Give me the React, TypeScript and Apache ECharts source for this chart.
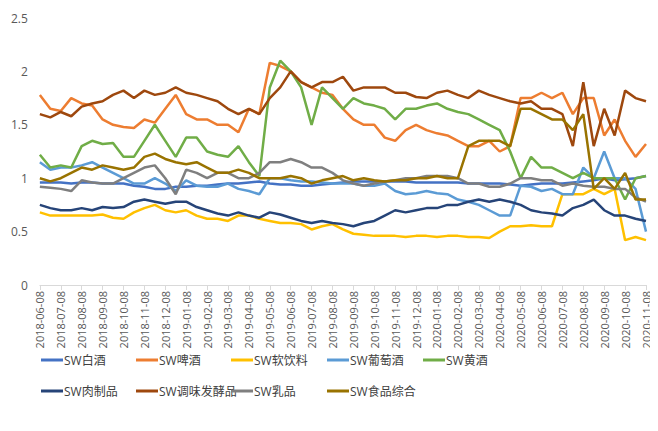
import React, { useEffect, useRef } from 'react';
import * as echarts from 'echarts';

// semi-monthly observations: the 8th and 23rd of each month
const dates: string[] = [];
for (let y = 2018, m = 6; y < 2020 || m <= 11; ) {
  const mm = String(m).padStart(2, '0');
  dates.push(`${y}-${mm}-08`);
  if (!(y === 2020 && m === 11)) dates.push(`${y}-${mm}-23`);
  m++;
  if (m > 12) { m = 1; y++; }
  if (y === 2020 && m > 11) break;
}

const seriesNames = ['SW白酒', 'SW啤酒', 'SW软饮料', 'SW葡萄酒', 'SW黄酒', 'SW肉制品', 'SW调味发酵品', 'SW乳品', 'SW食品综合'];
const colors = ['#4472C4', '#ED7D31', '#FFC000', '#5B9BD5', '#70AD47', '#264478', '#9E480E', '#7F7F7F', '#997300'];

const baijiu = [0.96,0.96,0.96,0.95,0.96,0.96,0.95,0.95,0.95,0.93,0.92,0.9,0.9,0.92,0.92,0.93,0.93,0.94,0.95,0.95,0.96,0.97,0.95,0.94,0.94,0.93,0.93,0.94,0.95,0.96,0.97,0.97,0.97,0.97,0.97,0.97,0.96,0.96,0.96,0.96,0.96,0.95,0.95,0.95,0.95,0.94,0.93,0.94,0.95,0.95,0.95,0.96,0.97,0.98,1.0,0.98,0.99,1.0,1.02];
const beer = [1.78,1.65,1.63,1.75,1.7,1.68,1.55,1.5,1.48,1.47,1.55,1.52,1.65,1.78,1.6,1.55,1.55,1.5,1.5,1.43,1.65,1.6,2.08,2.05,2.0,1.9,1.85,1.8,1.78,1.65,1.55,1.5,1.5,1.38,1.35,1.45,1.5,1.45,1.42,1.4,1.35,1.3,1.3,1.35,1.25,1.3,1.75,1.75,1.8,1.75,1.8,1.6,1.75,1.75,1.4,1.55,1.35,1.2,1.32];
const softDrink = [0.68,0.65,0.65,0.65,0.65,0.65,0.66,0.63,0.62,0.68,0.72,0.75,0.7,0.68,0.7,0.65,0.62,0.62,0.6,0.65,0.65,0.62,0.6,0.58,0.58,0.57,0.52,0.55,0.57,0.52,0.48,0.47,0.46,0.46,0.46,0.45,0.46,0.46,0.45,0.46,0.46,0.45,0.45,0.44,0.5,0.55,0.55,0.56,0.55,0.55,0.85,0.85,0.85,0.9,0.85,0.9,0.42,0.45,0.42];
const wine = [1.15,1.08,1.1,1.1,1.12,1.15,1.1,1.05,1.0,0.95,0.95,1.0,0.95,0.88,0.98,0.93,0.92,0.92,0.95,0.9,0.88,0.85,1.0,1.0,0.98,0.97,0.97,0.96,0.95,0.95,0.95,0.93,0.93,0.95,0.88,0.85,0.86,0.88,0.86,0.85,0.8,0.78,0.75,0.7,0.65,0.65,0.93,0.92,0.88,0.9,0.85,0.85,1.1,1.0,1.25,1.0,1.0,0.9,0.5];
const huangjiu = [1.22,1.1,1.12,1.1,1.3,1.35,1.32,1.33,1.2,1.2,1.35,1.5,1.35,1.2,1.38,1.38,1.25,1.22,1.2,1.3,1.15,1.02,1.85,2.1,2.0,1.85,1.5,1.85,1.75,1.65,1.75,1.7,1.68,1.65,1.55,1.65,1.65,1.68,1.7,1.65,1.62,1.6,1.55,1.5,1.45,1.25,1.0,1.2,1.1,1.1,1.05,1.0,1.05,1.0,1.0,1.0,0.8,1.0,1.02];
const meat = [0.75,0.72,0.7,0.7,0.72,0.7,0.73,0.72,0.73,0.78,0.8,0.78,0.76,0.78,0.78,0.73,0.7,0.67,0.65,0.68,0.65,0.63,0.68,0.66,0.63,0.6,0.58,0.6,0.58,0.57,0.55,0.58,0.6,0.65,0.7,0.68,0.7,0.72,0.72,0.75,0.75,0.78,0.8,0.78,0.8,0.78,0.75,0.7,0.68,0.67,0.65,0.72,0.75,0.8,0.7,0.65,0.65,0.62,0.6];
const seasoning = [1.6,1.57,1.62,1.58,1.67,1.7,1.72,1.78,1.82,1.75,1.82,1.78,1.8,1.85,1.8,1.78,1.75,1.72,1.65,1.6,1.65,1.6,1.75,1.85,2.0,1.9,1.85,1.9,1.9,1.95,1.82,1.85,1.85,1.85,1.8,1.8,1.76,1.75,1.8,1.82,1.78,1.75,1.82,1.78,1.75,1.72,1.7,1.72,1.65,1.65,1.6,1.3,1.9,1.3,1.65,1.4,1.82,1.75,1.72];
const dairy = [0.92,0.91,0.9,0.88,0.98,0.96,0.95,0.95,1.0,1.05,1.1,1.12,1.0,0.85,1.08,1.05,1.0,1.05,1.05,1.0,1.0,1.05,1.15,1.15,1.18,1.15,1.1,1.1,1.05,0.98,0.95,0.93,0.95,0.97,0.98,1.0,1.0,1.02,1.02,1.02,1.0,0.95,0.95,0.92,0.92,0.95,1.0,1.0,0.98,0.98,0.93,0.95,0.93,0.92,0.92,0.9,0.9,0.82,0.78];
const foodMix = [1.0,0.97,1.0,1.05,1.1,1.08,1.12,1.1,1.08,1.1,1.2,1.23,1.18,1.15,1.13,1.15,1.1,1.05,1.05,1.08,1.05,1.0,1.0,1.0,1.02,1.0,0.95,0.98,1.0,1.02,0.98,1.0,0.98,0.97,0.98,0.98,1.0,1.0,1.02,1.0,1.0,1.3,1.35,1.35,1.35,1.3,1.65,1.65,1.6,1.55,1.55,1.45,1.6,0.9,1.0,0.9,1.05,0.8,0.8];

const seriesData = [baijiu, beer, softDrink, wine, huangjiu, meat, seasoning, dairy, foodMix];

// legend item positions (two rows, column aligned), relative to the chart div
const legendLeft = [28, 123, 218, 314, 410];
const legendTop = [341, 372];

const App: React.FC = () => {
  const chartRef = useRef<HTMLDivElement | null>(null);

  useEffect(() => {
    if (!chartRef.current) return;
    const chart = echarts.init(chartRef.current, undefined, { renderer: 'svg' });
    const font = "'Open Sans', 'Noto Sans CJK SC', sans-serif";

    chart.setOption({
      animation: false,
      textStyle: { fontFamily: font },
      grid: { left: 29, right: 12, top: 10, bottom: 146 },
      legend: seriesNames.map((name, i) => ({
        data: [name],
        left: legendLeft[i % 5],
        top: legendTop[Math.floor(i / 5)],
        icon: 'rect',
        itemWidth: 22,
        itemHeight: 3,
        itemGap: 2,
        textStyle: { fontSize: 12, color: '#404040', fontFamily: font, padding: [0, 0, 0, -4] },
      })),
      xAxis: {
        type: 'category',
        data: dates,
        boundaryGap: false,
        axisLine: { lineStyle: { color: '#D9D9D9' } },
        axisTick: { interval: 1, lineStyle: { color: '#D9D9D9' } },
        axisLabel: { interval: 1, rotate: 90, fontSize: 11, color: '#595959', margin: 6 },
      },
      yAxis: {
        type: 'value',
        min: 0,
        max: 2.5,
        interval: 0.5,
        axisLine: { show: false },
        axisTick: { show: false },
        splitLine: { show: false },
        axisLabel: { fontSize: 12, color: '#595959', margin: 12 },
      },
      series: seriesNames.map((name, i) => ({
        name,
        type: 'line',
        data: seriesData[i],
        symbol: 'none',
        lineStyle: { width: 2.5, color: colors[i] },
        itemStyle: { color: colors[i] },
      })),
    });

    return () => chart.dispose();
  }, []);

  return <div ref={chartRef} style={{ width: 650, height: 423 }} />;
};

export default App;
